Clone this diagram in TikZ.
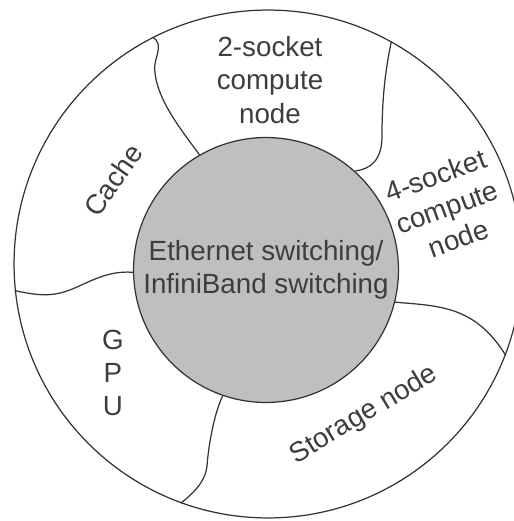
\documentclass[tikz,border=0pt]{standalone}
\usepackage{fontspec}
\setmainfont{Liberation Sans}
\usetikzlibrary{calc}
\definecolor{HubClr}{rgb}{0.75,0.75,0.75}
\definecolor{LineClr}{rgb}{0.2,0.2,0.2}
\definecolor{TextClr}{rgb}{0.24,0.24,0.24}

\begin{document}
\begin{tikzpicture}[x=0.02cm,y=0.02cm,
  ring/.style={circle,draw=LineClr,line width=0.7pt,inner sep=0pt},
  part/.style={text=TextClr,align=center,font=\fontsize{15.8}{19}\selectfont},
  divider/.style={draw=LineClr,line width=0.7pt}]
\useasboundingbox (0,0) rectangle (514,521);

\node[ring,minimum size=10.16cm] (rim) at (268,257) {};
\node[ring,part,fill=HubClr,minimum size=5.3cm] (hub) at (266,251) {Ethernet switching/\\InfiniBand switching};

% sectors
\node[part] (twosocket) at (270,441) {2-socket\\compute\\node};
\node[part,rotate=20] (foursocket) at (447,314) {4-socket\\compute\\node};
\node[part,rotate=31] (storage) at (364,106) {Storage node};
\node[part] (gpu) at (113,148) {G\\P\\U};
\node[part,rotate=55] (cache) at (113,341) {Cache};

% borders between the sectors
\draw[divider] (rim.117) .. controls (166,476) and (152,462) .. (155,448)
  .. controls (158,420) and (182,390) .. (hub.120);
\draw[divider] (rim.61) .. controls (385,450) and (382,420) .. (382,385)
  .. controls (382,360) and (370,352) .. (hub.48);
\draw[divider] (hub.-14) .. controls (440,215) and (475,215) .. (rim.-21.5);
\draw[divider] (hub.-109) .. controls (213,105) and (208,70) .. (207,55)
  .. controls (205,38) and (193,28) .. (rim.250);
\draw[divider] (hub.181) .. controls (105,251) and (85,236) .. (67,230)
  .. controls (50,224) and (35,226) .. (rim.186);
\end{tikzpicture}
\end{document}
